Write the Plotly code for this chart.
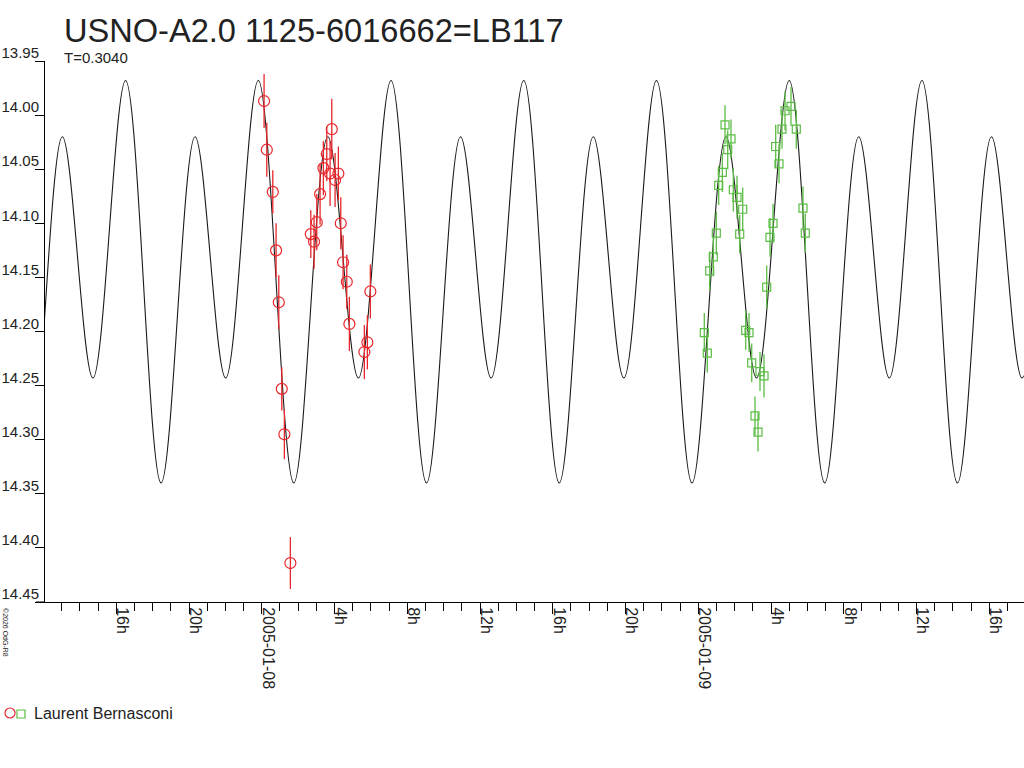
import pandas as pd
import plotly.graph_objects as go

# hours counted from 2005-01-08 00:00 (UT)
T0 = pd.Timestamp("2005-01-08 00:00")

# model light curve: extrema (max / min alternating)
model_hours = [-14.788, -12.836, -10.967, -9.285,
               -7.490, -5.538, -3.669, -1.987,
               -0.192, 1.760, 3.629, 5.311,
               7.106, 9.058, 10.927, 12.609,
               14.404, 16.356, 18.225, 19.907,
               21.702, 23.654, 25.523, 27.205,
               29.000, 30.952, 32.821, 34.503,
               36.298, 38.250, 40.119, 41.801,
               43.596]
model_mag = [13.968, 14.340, 14.020, 14.243] * 8 + [13.968]

# Laurent Bernasconi, night 1 (red circles)
red_hours = [0.126, 0.275, 0.605, 0.786, 0.935, 1.100, 1.242, 1.572,
             2.694, 2.875, 3.024, 3.205, 3.386, 3.573, 3.755, 3.848,
             4.030, 4.211, 4.343, 4.470, 4.673, 4.816, 5.640, 5.805, 5.970]
red_mag = [13.987, 14.032, 14.071, 14.125, 14.173, 14.253, 14.295, 14.414,
           14.110, 14.117, 14.099, 14.073, 14.049, 14.036, 14.054, 14.013,
           14.060, 14.054, 14.100, 14.136, 14.154, 14.193, 14.219, 14.210, 14.163]
red_err = [0.025, 0.025, 0.020, 0.025, 0.025, 0.020, 0.023, 0.024,
           0.022, 0.025, 0.026, 0.028, 0.025, 0.025, 0.030, 0.028,
           0.025, 0.025, 0.024, 0.025, 0.025, 0.025, 0.025, 0.025, 0.025]

# Laurent Bernasconi, night 2 (green squares)
green_hours = [24.332, 24.497, 24.629, 24.827, 24.992, 25.124, 25.322, 25.470,
               25.619, 25.800, 25.927, 26.130, 26.278, 26.443, 26.608, 26.790,
               26.938, 27.120, 27.285, 27.394, 27.614, 27.763, 27.944, 28.109,
               28.257, 28.439, 28.604, 28.769, 29.099, 29.390, 29.758, 29.884]
green_mag = [14.201, 14.220, 14.144, 14.131, 14.109, 14.065, 14.053, 14.009,
             14.032, 14.022, 14.069, 14.076, 14.110, 14.087, 14.199, 14.201,
             14.229, 14.278, 14.293, 14.237, 14.241, 14.159, 14.113, 14.100,
             14.029, 14.045, 14.013, 13.996, 13.992, 14.013, 14.086, 14.109]
green_err = [0.018, 0.018, 0.018, 0.018, 0.020, 0.018, 0.018, 0.018,
             0.018, 0.018, 0.020, 0.020, 0.018, 0.020, 0.018, 0.018,
             0.018, 0.018, 0.018, 0.018, 0.020, 0.020, 0.018, 0.018,
             0.020, 0.018, 0.018, 0.018, 0.018, 0.018, 0.020, 0.018]

tick_hours = [-8, -4, 0, 4, 8, 12, 16, 20, 24, 28, 32, 36, 40]
tick_text = ["16h", "20h", "2005-01-08", "4h", "8h", "12h", "16h", "20h",
             "2005-01-09", "4h", "8h", "12h", "16h"]


def to_time(hours):
    return T0 + pd.to_timedelta(hours, unit="h")


FONT = "Liberation Sans, Arial, sans-serif"
RED = "#e8262b"
GREEN = "#5cbd45"

fig = go.Figure()

fig.add_trace(go.Scatter(x=to_time(model_hours), y=model_mag,
                         mode="lines", line=dict(color="#1a1a1a", width=1.1, shape="spline"),
                         hoverinfo="skip", showlegend=False))

fig.add_trace(go.Scatter(x=to_time(red_hours), y=red_mag, mode="markers",
                         marker=dict(symbol="circle-open", size=11, color=RED, line=dict(width=1.2)),
                         error_y=dict(type="data", array=red_err, width=0, thickness=1.3, color=RED),
                         name="Laurent Bernasconi", showlegend=False))

fig.add_trace(go.Scatter(x=to_time(green_hours), y=green_mag, mode="markers",
                         marker=dict(symbol="square-open", size=8, color=GREEN, line=dict(width=1.2)),
                         error_y=dict(type="data", array=green_err, width=0, thickness=1.3, color=GREEN),
                         name="Laurent Bernasconi", showlegend=False))

plot_w = 1024 - 45
plot_h = 602 - 61

fig.update_xaxes(type="date", automargin=False,
                 range=[to_time(-11.92), to_time(41.91)],
                 tickmode="array", tickvals=to_time(tick_hours), ticktext=tick_text,
                 tickangle=90, ticks="outside", ticklen=11, tickcolor="black", tickwidth=1,
                 ticklabelshift=6, ticklabelstandoff=-10,
                 minor=dict(ticks="outside", ticklen=8, tickcolor="black", tickwidth=1,
                            dtick=3600000, tick0="2005-01-08"),
                 showline=True, linecolor="black", linewidth=1,
                 showgrid=False, zeroline=False,
                 tickfont=dict(family=FONT, size=16, color="#222"))

fig.update_yaxes(automargin=False,
                 range=[14.45, 13.95], tick0=13.95, dtick=0.05, tickformat=".2f",
                 ticks="outside", ticklen=9, tickcolor="black", tickwidth=1,
                 ticklabelshift=8, ticklabelstandoff=-7,
                 showline=True, linecolor="black", linewidth=1,
                 showgrid=False, zeroline=False,
                 tickfont=dict(family=FONT, size=15, color="#222"))

# x axis line runs a little past the y axis, like the tick marks
fig.add_shape(type="line", xref="paper", yref="paper",
              x0=-9 / plot_w, x1=0, y0=0, y1=0, line=dict(color="black", width=1))

# legend drawn by hand: both symbols share one label
fig.add_shape(type="circle", xref="paper", yref="paper", xsizemode="pixel", ysizemode="pixel",
              xanchor=(10 - 45) / plot_w, yanchor=-(713 - 602) / plot_h,
              x0=-5, x1=5, y0=-5, y1=5, line=dict(color=RED, width=1.2))
fig.add_shape(type="rect", xref="paper", yref="paper", xsizemode="pixel", ysizemode="pixel",
              xanchor=(21 - 45) / plot_w, yanchor=-(714 - 602) / plot_h,
              x0=-4, x1=4, y0=-4, y1=4, line=dict(color=GREEN, width=1.2))

fig.add_annotation(text="Laurent Bernasconi", xref="paper", yref="paper",
                   x=(32 - 45) / plot_w, y=-(713 - 602) / plot_h, xanchor="left", yanchor="middle",
                   showarrow=False, font=dict(family=FONT, size=16, color="#222"))

fig.add_annotation(text="USNO-A2.0 1125-6016662=LB117", xref="paper", yref="paper",
                   x=(62 - 45) / plot_w, y=1 + (61 - 31) / plot_h, xanchor="left", yanchor="middle",
                   showarrow=False, font=dict(family=FONT, size=32.6, color="#222"))

fig.add_annotation(text="T=0.3040", xref="paper", yref="paper",
                   x=(62 - 45) / plot_w, y=1 + (61 - 58) / plot_h, xanchor="left", yanchor="middle",
                   showarrow=False, font=dict(family=FONT, size=15, color="#222"))

fig.add_annotation(text="©2026 OdG-R8", xref="paper", yref="paper",
                   x=(6 - 45) / plot_w, y=-(632 - 602) / plot_h, xanchor="center", yanchor="middle",
                   textangle=90, showarrow=False, font=dict(family=FONT, size=7, color="#222"))

fig.update_layout(width=1024, height=768,
                  margin=dict(l=45, r=0, t=61, b=166),
                  paper_bgcolor="white", plot_bgcolor="white",
                  showlegend=False)

# the page's default body margin would push the figure 8px down and right
fig.write_html("out.html", config={"displayModeBar": False},
               post_script="document.body.style.margin='0';")
